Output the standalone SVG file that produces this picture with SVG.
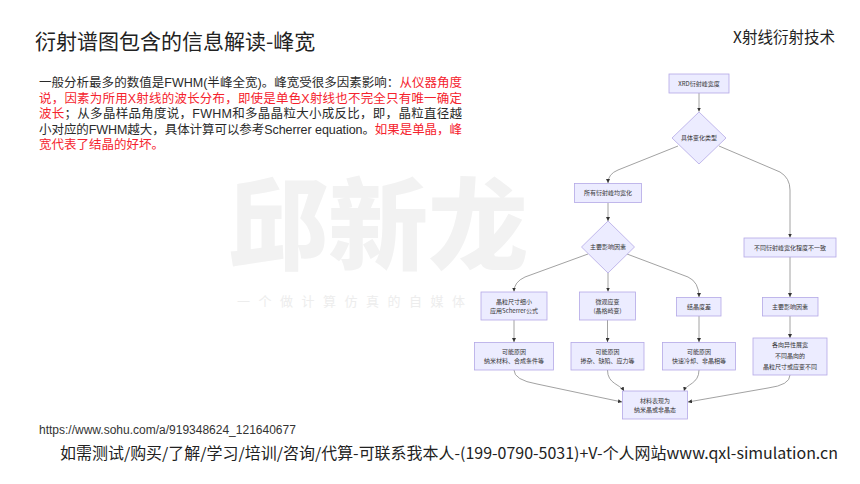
<svg xmlns="http://www.w3.org/2000/svg" width="860" height="484" viewBox="0 0 860 484">
<defs>
<style>
.node rect,.node polygon{fill:#ECECFF;stroke:#b4a8e6;stroke-width:0.8}
.node text{font-family:"Noto Sans CJK SC","Noto Sans",sans-serif;font-size:6px;fill:#333;text-anchor:middle}
.edges path{fill:none;stroke:#8a8a8a;stroke-width:0.8;marker-end:url(#arr)}
.cn{font-family:"Noto Sans CJK SC","Noto Sans",sans-serif}
.bd{font-family:"Liberation Sans","Noto Sans CJK SC",sans-serif}
.red{fill:#f5222d}
.blk{fill:#2a2a2a}
</style>
<marker id="arr" markerUnits="userSpaceOnUse" markerWidth="4" markerHeight="4" refX="4" refY="2" orient="auto">
<path d="M0,0 L4,2 L0,4 z" fill="#333"/>
</marker>
</defs>
<rect width="860" height="484" fill="#fff"/>
<g id="watermark" class="cn">
<text x="228" y="262" font-size="100" font-weight="900" fill="#f2f2f2">邱新龙</text>
<text x="237" y="306" font-size="13" fill="#ededed" letter-spacing="8.5">一个做计算仿真的自媒体</text>
</g>
<g id="title" class="cn">
<text x="35" y="49" font-size="21" fill="#222">衍射谱图包含的信息解读-峰宽</text>
<text x="733" y="43" font-size="15.5" fill="#222">X射线衍射技术</text>
</g>
<g id="body" class="bd" font-size="12.5">
<text x="39" y="87" textLength="423" lengthAdjust="spacing"><tspan class="blk">一般分析最多的数值是FWHM(半峰全宽)。峰宽受很多因素影响：</tspan><tspan class="red">从仪器角度</tspan></text>
<text x="39" y="102.6" textLength="423" lengthAdjust="spacing" class="red">说，因素为所用X射线的波长分布，即使是单色X射线也不完全只有唯一确定</text>
<text x="39" y="118.2" textLength="423" lengthAdjust="spacing"><tspan class="red">波长</tspan><tspan class="blk">；从多晶样品角度说，FWHM和多晶晶粒大小成反比，即，晶粒直径越</tspan></text>
<text x="39" y="133.8" textLength="423" lengthAdjust="spacing"><tspan class="blk">小对应的FWHM越大，具体计算可以参考Scherrer equation。</tspan><tspan class="red">如果是单晶，峰</tspan></text>
<text x="39" y="149.4" class="red">宽代表了结晶的好坏。</text>
</g>
<g class="edges" id="connectors">
<path d="M699,93 L699,111.5"/>
<path d="M678,146 L618,170 Q608,174 608,183"/>
<path d="M719,146 L780,172 Q790,178 790,190 L790,237.5"/>
<path d="M608,203 L608,221"/>
<path d="M588,254 L525,277 Q514,282 514,291.5"/>
<path d="M608,273 L608,291.5"/>
<path d="M627,254 L688,277 Q699,282 699,297"/>
<path d="M790,257 L790,297"/>
<path d="M514,320 L514,342"/>
<path d="M607.5,320 L607.5,342"/>
<path d="M699,316 L699,342"/>
<path d="M790,316 L790,338"/>
<path d="M514,370 Q514,380 537,384 L622,402"/>
<path d="M607.5,370 C607.5,384 620,384 624,391"/>
<path d="M699,370 C699,384 686,384 684,391"/>
<path d="M790,375 Q790,385 768,388 L688,402"/>
</g>
<g id="n1" class="node"><rect x="669" y="74" width="60" height="19"/><text x="699" y="85.5">XRD衍射峰宽度</text></g>
<g id="d1" class="node"><polygon points="699,112 726,138 699,164 672,138"/><text x="699" y="140">具体变化类型</text></g>
<g id="n2" class="node"><rect x="574.5" y="183.5" width="67" height="19"/><text x="608" y="195">所有衍射峰均宽化</text></g>
<g id="n3" class="node"><rect x="744" y="238" width="92" height="19"/><text x="790" y="249.5">不同衍射峰宽化程度不一致</text></g>
<g id="d2" class="node"><polygon points="608,221 634.5,247 608,273 581.5,247"/><text x="608" y="249">主要影响因素</text></g>
<g id="n4" class="node"><rect x="481" y="292" width="66" height="28"/><text x="514" y="303.5">晶粒尺寸细小</text><text x="514" y="312.8">应用Scherrer公式</text></g>
<g id="n5" class="node"><rect x="579.5" y="292" width="56" height="28"/><text x="607.5" y="303.5">微观应变</text><text x="607.5" y="312.8">(晶格畸变)</text></g>
<g id="n6" class="node"><rect x="676.5" y="297.5" width="44.5" height="18.5"/><text x="699" y="309">结晶度差</text></g>
<g id="n7" class="node"><rect x="762.5" y="297.5" width="55.5" height="18.5"/><text x="790" y="309">主要影响因素</text></g>
<g id="n8" class="node"><rect x="474.5" y="342.5" width="79" height="27.5"/><text x="514" y="354">可能原因</text><text x="514" y="363.3">纳米材料、合成条件等</text></g>
<g id="n9" class="node"><rect x="571" y="342.5" width="73" height="27.5"/><text x="607.5" y="354">可能原因</text><text x="607.5" y="363.3">掺杂、缺陷、应力等</text></g>
<g id="n10" class="node"><rect x="662.5" y="342.5" width="73" height="27.5"/><text x="699" y="354">可能原因</text><text x="699" y="363.3">快速冷却、非晶相等</text></g>
<g id="n11" class="node"><rect x="753" y="338" width="74" height="37"/><text x="790" y="347">各向异性展宽</text><text x="790" y="358">不同晶向的</text><text x="790" y="369">晶粒尺寸或应变不同</text></g>
<g id="n12" class="node"><rect x="622.5" y="391" width="65" height="28"/><text x="655" y="402.5">材料表现为</text><text x="655" y="411.8">纳米晶或非晶态</text></g>
<g id="footer">
<text x="39" y="434" font-family="'Liberation Sans',sans-serif" font-size="12" fill="#333">https://www.sohu.com/a/919348624_121640677</text>
<text x="60" y="459" class="cn" font-size="15.5" fill="#222" textLength="778" lengthAdjust="spacingAndGlyphs">如需测试/购买/了解/学习/培训/咨询/代算-可联系我本人-(199-0790-5031)+V-个人网站www.qxl-simulation.cn</text>
</g>
</svg>
